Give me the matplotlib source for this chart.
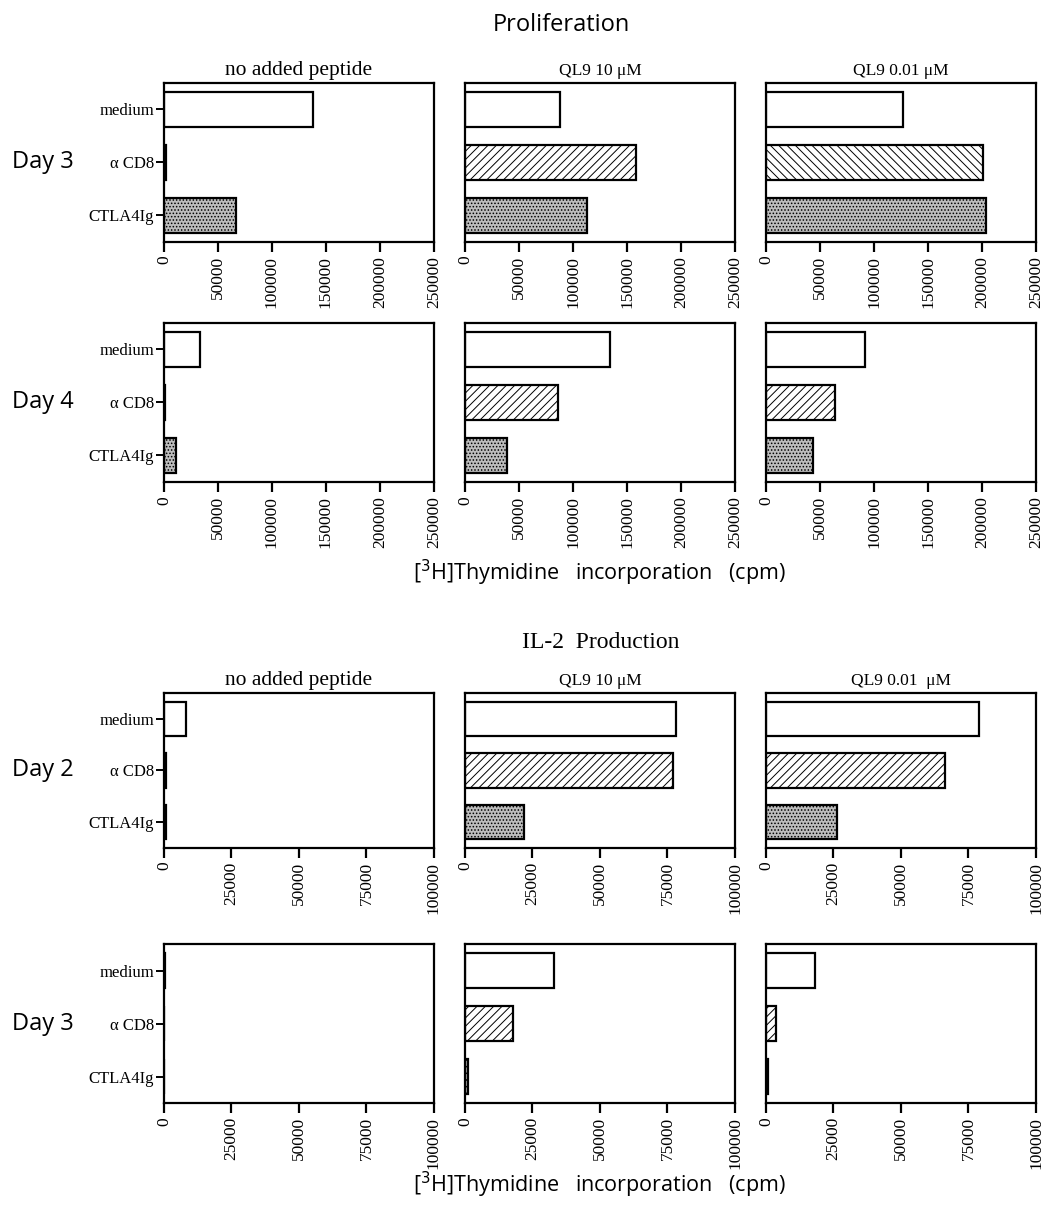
import matplotlib
matplotlib.use('Agg')
import matplotlib.pyplot as plt

# data
categories = ['medium', 'α CD8', 'CTLA4Ig']
col_titles_prolif = ['no added peptide', 'QL9 10 μM', 'QL9 0.01 μM']
col_titles_il2 = ['no added peptide', 'QL9 10 μM', 'QL9 0.01  μM']

# proliferation (cpm), order: no peptide, QL9 10, QL9 0.01
prolif_day3 = [[138000, 1500, 66500],
               [88400, 158500, 113000],
               [127000, 201000, 204000]]
prolif_day4 = [[33500, 1200, 11000],
               [134000, 86500, 39000],
               [92000, 63800, 43800]]
# IL-2 production
il2_day2 = [[8100, 700, 700],
            [78000, 77000, 22000],
            [79000, 66300, 26200]]
il2_day3 = [[500, 0, 0],
            [33000, 17700, 1200],
            [18200, 3700, 800]]

prolif_ticks = [0, 50000, 100000, 150000, 200000, 250000]
il2_ticks = [0, 25000, 50000, 75000, 100000]

serif = ['Liberation Serif', 'DejaVu Serif']
sans = ['Open Sans', 'DejaVu Sans']

plt.rcParams['hatch.linewidth'] = 0.7

fig = plt.figure(figsize=(10.44, 12.05), dpi=100)

col_left = [0.157, 0.4454, 0.7337]
col_w = 0.2586
rows = [
    (0.7992, 0.132, prolif_day3, prolif_ticks, 'Day 3', col_titles_prolif),
    (0.600, 0.132, prolif_day4, prolif_ticks, 'Day 4', None),
    (0.2963, 0.1286, il2_day2, il2_ticks, 'Day 2', col_titles_il2),
    (0.0846, 0.132, il2_day3, il2_ticks, 'Day 3', None),
]


def draw_panel(ax, vals, ticks, show_y, hatch_cd8):
    ax.barh(0, vals[0], height=0.67, facecolor='white', edgecolor='black', linewidth=1.6)
    ax.barh(1, vals[1], height=0.67, facecolor='white', edgecolor='black', linewidth=1.6, hatch=hatch_cd8)
    ax.barh(2, vals[2], height=0.67, facecolor='#bdbdbd', edgecolor='black', linewidth=1.6, hatch='.....')
    ax.set_ylim(2.5, -0.5)
    ax.set_xlim(0, ticks[-1])
    ax.set_xticks(ticks)
    ax.set_xticklabels([str(t) for t in ticks], rotation=90, fontfamily=serif, fontsize=12.5)
    ax.tick_params(axis='x', direction='out', length=7, width=1.6, pad=3)
    if show_y:
        ax.set_yticks(range(len(categories)))
        ax.set_yticklabels(categories, fontfamily=serif, fontsize=12)
        ax.tick_params(axis='y', direction='out', length=6, width=1.4, pad=1)
    else:
        ax.set_yticks([])
    for s in ax.spines.values():
        s.set_linewidth(1.6)


for r, (bottom, height, data, ticks, day, titles) in enumerate(rows):
    for c in range(3):
        ax = fig.add_axes([col_left[c], bottom, col_w, height])
        hatch_cd8 = '\\\\\\\\' if (r == 0 and c == 2) else '////'
        draw_panel(ax, data[c], ticks, c == 0, hatch_cd8)
        if titles is not None:
            fs = 15.5 if c == 0 else 12.5
            ax.set_title(titles[c], fontfamily=serif, fontsize=fs, pad=6)
    fig.text(0.041, bottom + height / 2, day, ha='center', va='center',
             fontfamily=sans, fontsize=17)

fig.text(0.538, 0.979, 'Proliferation', ha='center', va='center', fontfamily=sans, fontsize=17)
fig.text(0.575, 0.467, 'IL-2  Production', ha='center', va='center', fontfamily=serif, fontsize=17)

xlab = '[$^{3}$H]Thymidine   incorporation   (cpm)'
fig.text(0.574, 0.5245, xlab, ha='center', va='center', fontfamily=sans, fontsize=15.5)
fig.text(0.574, 0.0166, xlab, ha='center', va='center', fontfamily=sans, fontsize=15.5)

plt.savefig('out.png', dpi=100)
